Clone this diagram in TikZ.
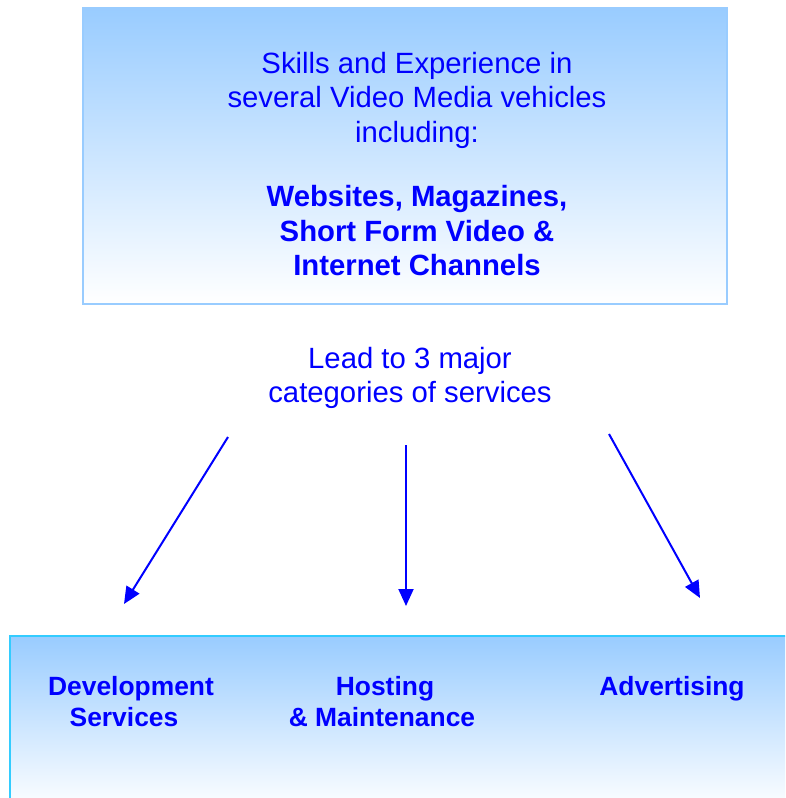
\documentclass[tikz,border=0pt]{standalone}
\usepackage{fontspec}
\setmainfont{Liberation Sans}
\usetikzlibrary{arrows.meta}
\definecolor{paleblue}{HTML}{99CCFF}
\definecolor{skyedge}{HTML}{33CCFF}
\definecolor{ink}{HTML}{0000FF}
\tikzset{
  panel/.style={rectangle, line width=2pt, top color=paleblue, bottom color=white, inner sep=0pt},
  bodytext/.style={text=ink, align=center, inner sep=0pt, font=\fontsize{29.3}{34.5}\selectfont},
  labeltext/.style={text=ink, align=center, inner sep=0pt, anchor=base, font=\bfseries\fontsize{26.4}{31}\selectfont},
  flow/.style={draw=ink, line width=2pt, -{Triangle[length=17pt,width=15pt]}}
}
\begin{document}
\begin{tikzpicture}[x=1pt,y=-1pt]
\clip (0,0) rectangle (785,798);
\fill[white] (0,0) rectangle (785,798);

% upper panel
\node[panel, draw=paleblue, minimum width=644pt, minimum height=296pt] (skills) at (405,156) {};
\node[bodytext] (skillstext) at (417,164) {Skills and Experience in\\several Video Media vehicles\\including:\\[30pt]
  \textbf{Websites, Magazines,}\\\textbf{Short Form Video \&}\\\textbf{Internet Channels}};

% middle caption
\node[bodytext] (lead) at (410,378) {Lead to 3 major\\categories of services};

% lower panel
\node[panel, draw=skyedge, minimum width=800pt, minimum height=175pt, anchor=north west] (services) at (9,635) {};
\node[labeltext] (dev) at (131,695.5) {Development};
\node[labeltext] (devb) at (124,726.5) {Services};
\node[labeltext] (host) at (385,695.5) {Hosting};
\node[labeltext] (hostb) at (382,726.5) {\& Maintenance};
\node[labeltext] (adv) at (672,695.5) {Advertising};

% arrow ends
\coordinate (s1) at (228,437);
\coordinate (e1) at (124,604);
\coordinate (s2) at (406,445);
\coordinate (e2) at (406,606);
\coordinate (s3) at (609,434);
\coordinate (e3) at (700,598);
\draw[flow] (s1) -- (e1);
\draw[flow] (s2) -- (e2);
\draw[flow] (s3) -- (e3);
\end{tikzpicture}
\end{document}
